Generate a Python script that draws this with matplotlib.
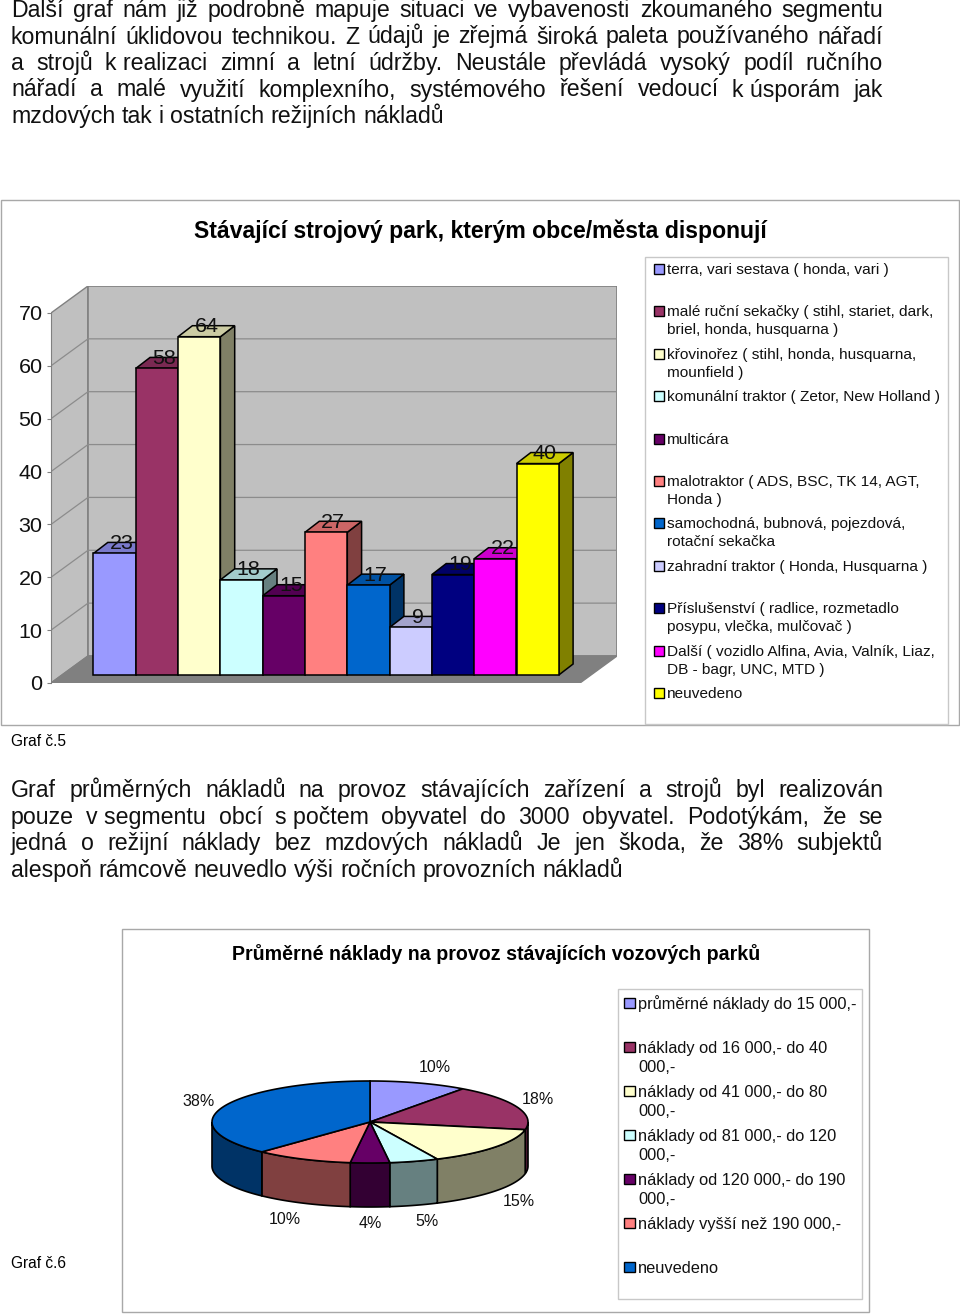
import numpy as np
import matplotlib
matplotlib.use('Agg')
import matplotlib.pyplot as plt
from matplotlib.patches import Polygon, Rectangle
from matplotlib.colors import to_rgb

plt.rcParams['font.family'] = ['Liberation Sans', 'DejaVu Sans']

# --- Data ---
intro_lines = [
    'Další graf nám již podrobně mapuje situaci ve vybavenosti zkoumaného segmentu',
    'komunální úklidovou technikou. Z údajů je zřejmá široká paleta používaného nářadí',
    'a strojů k\u00a0realizaci zimní a letní údržby. Neustále převládá vysoký podíl ručního',
    'nářadí a malé využití komplexního, systémového řešení vedoucí k\u00a0úsporám jak',
    'mzdových tak i ostatních režijních nákladů',
]
middle_lines = [
    'Graf průměrných nákladů na provoz  stávajících zařízení a strojů byl realizován',
    'pouze v\u00a0segmentu obcí s\u00a0počtem obyvatel do 3000 obyvatel. Podotýkám, že se',
    'jedná o režijní náklady bez mzdových nákladů Je jen škoda, že 38% subjektů',
    'alespoň rámcově neuvedlo výši ročních provozních nákladů',
]

bar_title = 'Stávající strojový park, kterým obce/města disponují'
bar_values = [23, 58, 64, 18, 15, 27, 17, 9, 19, 22, 40]
bar_colors = ['#9999FF', '#993366', '#FFFFCC', '#CCFFFF', '#660066', '#FF8080',
              '#0066CC', '#CCCCFF', '#000080', '#FF00FF', '#FFFF00']
bar_labels = [
    'terra, vari sestava ( honda, vari )',
    'malé ruční sekačky ( stihl, stariet, dark,\nbriel, honda, husquarna )',
    'křovinořez ( stihl, honda, husquarna,\nmounfield )',
    'komunální traktor ( Zetor, New Holland )',
    'multicára',
    'malotraktor ( ADS, BSC, TK 14, AGT,\nHonda )',
    'samochodná, bubnová, pojezdová,\nrotační sekačka',
    'zahradní traktor ( Honda, Husquarna )',
    'Příslušenství ( radlice, rozmetadlo\nposypu, vlečka, mulčovač )',
    'Další ( vozidlo Alfina, Avia, Valník, Liaz,\nDB - bagr, UNC, MTD )',
    'neuvedeno',
]
y_ticks = [0, 10, 20, 30, 40, 50, 60, 70]

pie_title = 'Průměrné náklady na provoz stávajících vozových parků'
pie_values = [10, 18, 15, 5, 4, 10, 38]
pie_colors = ['#9999FF', '#993366', '#FFFFCC', '#CCFFFF', '#660066', '#FF8080', '#0066CC']
pie_labels = [
    'průměrné náklady do 15 000,-',
    'náklady od 16 000,- do 40\n000,-',
    'náklady od 41 000,- do 80\n000,-',
    'náklady od 81 000,- do 120\n000,-',
    'náklady od 120 000,- do 190\n000,-',
    'náklady vyšší než 190 000,-',
    'neuvedeno',
]
pie_text_pos = [(435, 1067), (538, 1099), (519, 1201), (427, 1220), (370, 1222), (285, 1218), (199, 1101)]


def px(size):
    return size * 0.72


def shade(color, f):
    return tuple(c * f for c in to_rgb(color))


fig = plt.figure(figsize=(9.6, 13.14), dpi=100)

# page layer in pixel coordinates
page = fig.add_axes([0, 0, 1, 1])
page.set_xlim(0, 960)
page.set_ylim(1314, 0)
page.axis('off')


def justified(line, y, left=11, right=883, size=23.1, stretch=True):
    """Place a line word by word so that it fills the column."""
    renderer = fig.canvas.get_renderer()
    words = [w for w in line.split(' ') if w]
    items = [page.text(left, y, w, fontsize=px(size), va='baseline', ha='left', color='#111111') for w in words]
    widths = [t.get_window_extent(renderer).width for t in items]
    space = size * 0.278
    if stretch and len(words) > 1:
        space = (right - left - sum(widths)) / (len(words) - 1)
    x = left
    for t, w in zip(items, widths):
        t.set_x(x)
        x += w + space


for i, line in enumerate(intro_lines):
    justified(line, 17 + i * 26.5, stretch=i < len(intro_lines) - 1)
for i, line in enumerate(middle_lines):
    justified(line, 797 + i * 26.6, stretch=i < len(middle_lines) - 1)

page.text(11, 746, 'Graf č.5', fontsize=px(15.5), va='baseline')
page.text(11, 1268, 'Graf č.6', fontsize=px(15.5), va='baseline')

# frames
page.add_patch(Rectangle((1, 200), 958, 525, fc='white', ec='#A8A8A8', lw=1))
page.add_patch(Rectangle((645, 257), 303, 467, fc='white', ec='#C8C8C8', lw=1))
page.add_patch(Rectangle((122, 929), 747, 383, fc='white', ec='#A8A8A8', lw=1))
page.add_patch(Rectangle((618, 989), 244, 310, fc='white', ec='#C8C8C8', lw=1))

page.text(480, 238, bar_title, fontsize=px(23), fontweight='bold', ha='center', va='baseline')
page.text(496, 960, pie_title, fontsize=px(19.6), fontweight='bold', ha='center', va='baseline')

# legends
for i, (label, color) in enumerate(zip(bar_labels, bar_colors)):
    y = 269 + i * 42.4
    page.add_patch(Rectangle((654, y - 5), 10, 10, fc=color, ec='black', lw=1))
    for j, part in enumerate(label.split('\n')):
        page.text(667, y + 5 + j * 18, part, fontsize=px(15.45), va='baseline', color='#111111')

for i, (label, color) in enumerate(zip(pie_labels, pie_colors)):
    y = 1003 + i * 44
    page.add_patch(Rectangle((624, y - 5), 11, 10, fc=color, ec='black', lw=1))
    for j, part in enumerate(label.split('\n')):
        page.text(638, y + 6 + j * 19, part, fontsize=px(16.4), va='baseline', color='#111111')

# --- 3D style bar chart ---
UNIT_X = 42.3
UNIT_Y = 5.286
ax = fig.add_axes([51 / 960, (1314 - 683) / 1314, 566 / 960, 397 / 1314])
ax.set_xlim(0, 566 / UNIT_X)
ax.set_ylim(0, 397 / UNIT_Y)
ax.patch.set_alpha(0)
for side in ['top', 'right', 'bottom']:
    ax.spines[side].set_visible(False)
ax.spines['left'].set_bounds(0, 70)
ax.spines['left'].set_color('#808080')
ax.set_xticks([])
ax.set_yticks(y_ticks)
ax.tick_params(axis='y', labelsize=px(21.5), length=3, color='#808080', pad=3, labelcolor='#111111')

wall_dx, wall_dy = 37 / UNIT_X, 27 / UNIT_Y
floor_end = 529 / UNIT_X
wall_edge = '#808080'
ax.add_patch(Polygon([(0, 0), (wall_dx, wall_dy), (wall_dx, 70 + wall_dy), (0, 70)],
                     fc='#C0C0C0', ec=wall_edge, lw=1, zorder=1))
ax.add_patch(Polygon([(wall_dx, wall_dy), (floor_end + wall_dx, wall_dy),
                      (floor_end + wall_dx, 70 + wall_dy), (wall_dx, 70 + wall_dy)],
                     fc='#C0C0C0', ec=wall_edge, lw=1.2, zorder=1))
ax.add_patch(Polygon([(0, 0), (floor_end, 0), (floor_end + wall_dx, wall_dy), (wall_dx, wall_dy)],
                     fc='#808080', ec='#808080', lw=1, zorder=1))
for v in y_ticks[1:-1]:
    ax.plot([0, wall_dx, floor_end + wall_dx], [v, v + wall_dy, v + wall_dy], color='#8C8C8C', lw=0.9, zorder=2)

first = 42.5 / UNIT_X + 0.5
base = 8 / UNIT_Y
dx, dy = 14.3 / UNIT_X, 11 / UNIT_Y
for i, (v, c) in enumerate(zip(bar_values, bar_colors)):
    xc = first + i
    z = 3 + i
    x0, x1, top = xc - 0.5, xc + 0.5, base + v
    ax.add_patch(Polygon([(x1, base), (x1 + dx, base + dy), (x1 + dx, top + dy), (x1, top)],
                         fc=shade(c, 0.5), ec='black', lw=1.1, zorder=z))
    ax.add_patch(Polygon([(x0, top), (x0 + dx, top + dy), (x1 + dx, top + dy), (x1, top)],
                         fc=shade(c, 0.8), ec='black', lw=1.1, zorder=z))
    ax.bar(xc, v, width=1, bottom=base, color=c, edgecolor='black', linewidth=1.1, zorder=z)
for i, v in enumerate(bar_values):
    ax.text(first + i + 0.17, base + v + dy - 0.2, str(v), fontsize=px(21.5), ha='center', va='center',
            color='#111111', zorder=30)

# --- 3D style pie ---
RX, RY, DEPTH = 158, 41, 44
pie = fig.add_axes([(370 - RX) / 960, (1314 - 1122 - RY - DEPTH) / 1314, 2 * RX / 960, (2 * RY + DEPTH) / 1314])
pie.set_xlim(-1, 1)
pie.set_ylim(-1 - DEPTH / RY, 1)
pie.axis('off')
drop = DEPTH / RY


def arc(a0, a1):
    t = np.radians(np.linspace(a0, a1, 80))
    return np.sin(t), np.cos(t)


edges = np.cumsum([0] + pie_values) * 3.6
for a0, a1, c in zip(edges[:-1], edges[1:], pie_colors):
    s0, s1 = max(a0, 90), min(a1, 270)
    if s0 < s1:
        xs, ys = arc(s0, s1)
        pts = list(zip(xs, ys)) + list(zip(xs[::-1], ys[::-1] - drop))
        pie.add_patch(Polygon(pts, fc=shade(c, 0.5), ec='black', lw=1.2, clip_on=False, zorder=2))
for a0, a1, c in zip(edges[:-1], edges[1:], pie_colors):
    xs, ys = arc(a0, a1)
    pts = [(0, 0)] + list(zip(xs, ys))
    pie.add_patch(Polygon(pts, fc=c, ec='black', lw=1.2, clip_on=False, zorder=3))

for v, (x, y) in zip(pie_values, pie_text_pos):
    page.text(x, y + 1, f'{v}%', fontsize=px(16), ha='center', va='center', color='#111111')

fig.savefig('out.png', dpi=100)
